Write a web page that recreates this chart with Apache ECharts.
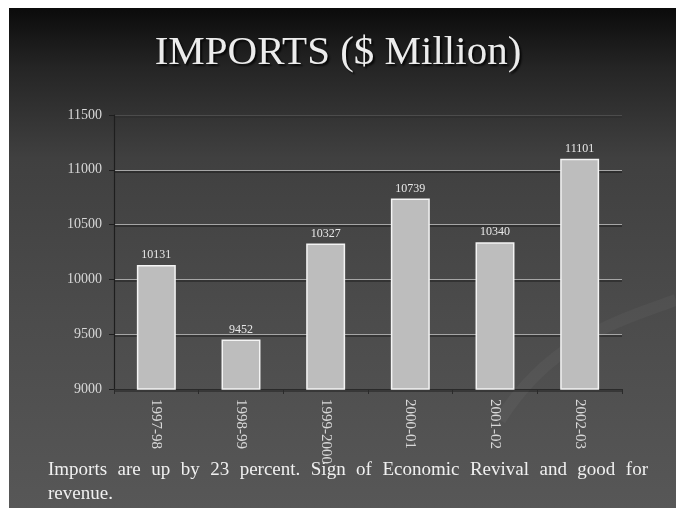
<!DOCTYPE html>
<html>
<head>
<meta charset="utf-8">
<script src="https://cdn.jsdelivr.net/npm/echarts@6/dist/echarts.min.js"></script>
<style>
  html, body { margin: 0; padding: 0; background: #ffffff; }
  #chart { width: 676px; height: 508px; }
</style>
</head>
<body>
<div id="chart"></div>
<script>
// Fiscal years and import values ($ Million)
const years = ['1997-98', '1998-99', '1999-2000', '2000-01', '2001-02', '2002-03'];
const imports = [10131, 9452, 10327, 10739, 10340, 11101];

// Value axis range and step
const yMin = 9000;
const yMax = 11500;
const yStep = 500;

// Slide text
const titleText = 'IMPORTS ($ Million)';
const noteLines = [
  'Imports are up by 23 percent. Sign of Economic Revival and good for',
  'revenue.'
];

const SERIF = '"Liberation Serif", "DejaVu Serif", serif';
const NOTE_FONT = '19px ' + SERIF;

// Lay out a justified line of words between two x positions
function justifiedWords(line, x0, x1, y) {
  const ctx = document.createElement('canvas').getContext('2d');
  ctx.font = NOTE_FONT;
  const words = line.split(' ');
  const widths = words.map(w => ctx.measureText(w).width);
  const total = widths.reduce((a, b) => a + b, 0);
  const gap = words.length > 1 ? (x1 - x0 - total) / (words.length - 1) : 0;
  let x = x0;
  return words.map((w, i) => {
    const el = {
      type: 'text', x: x, y: y, silent: true,
      style: { text: w, fill: '#f0f0f0', font: NOTE_FONT, textVerticalAlign: 'middle' }
    };
    x += widths[i] + gap;
    return el;
  });
}

const chart = echarts.init(document.getElementById('chart'), null, { renderer: 'canvas' });

const graphics = [
  // slide background
  {
    type: 'rect', z: -10, silent: true,
    shape: { x: 9, y: 8, width: 667, height: 500 },
    style: {
      fill: new echarts.graphic.LinearGradient(0, 0, 0, 1, [
        { offset: 0, color: '#0b0b0b' },
        { offset: 0.12, color: '#252525' },
        { offset: 0.3, color: '#404040' },
        { offset: 0.6, color: '#4b4b4b' },
        { offset: 1, color: '#575757' }
      ])
    }
  },
  // faint decorative swoosh lower right
  {
    type: 'bezierCurve', z: -9, silent: true,
    shape: { x1: 500, y1: 420, x2: 676, y2: 300, cpx1: 550, cpy1: 340, cpx2: 620, cpy2: 320 },
    style: { stroke: 'rgba(255,255,255,0.035)', lineWidth: 12, fill: null }
  },
  // title
  {
    type: 'text', left: 'center', top: 33, silent: true,
    style: {
      text: titleText, fill: '#ececec',
      font: '41px ' + SERIF,
      textShadowColor: 'rgba(0,0,0,0.8)', textShadowOffsetX: 2, textShadowOffsetY: 2, textShadowBlur: 2
    }
  }
];

graphics.push(...justifiedWords(noteLines[0], 48, 648, 470));
graphics.push({
  type: 'text', x: 48, y: 494, silent: true,
  style: { text: noteLines[1], fill: '#f0f0f0', font: NOTE_FONT, textVerticalAlign: 'middle' }
});

chart.setOption({
  backgroundColor: 'transparent',
  animation: false,
  graphic: graphics,
  grid: { left: 114, right: 54, top: 115, bottom: 119, containLabel: false },
  xAxis: {
    type: 'category',
    data: years,
    axisLine: { show: true, lineStyle: { color: '#2a2a2a', width: 1 } },
    axisTick: { show: true, alignWithLabel: false, length: 5, lineStyle: { color: '#2a2a2a' } },
    axisLabel: {
      rotate: -90, margin: 10, interval: 0,
      color: '#d8d8d8', fontFamily: SERIF, fontSize: 15
    }
  },
  yAxis: {
    type: 'value',
    min: yMin, max: yMax, interval: yStep,
    axisLine: { show: true, lineStyle: { color: '#1e1e1e', width: 1.2 } },
    axisTick: { show: true, length: 5, lineStyle: { color: '#1e1e1e' } },
    axisLabel: {
      color: '#d8d8d8', fontFamily: SERIF, fontSize: 14, margin: 12,
      formatter: v => String(v)
    },
    splitLine: {
      show: true,
      lineStyle: {
        color: ['#9e9e9e', '#a6a6a6', '#a6a6a6', '#a6a6a6', '#a6a6a6', 'rgba(150,150,150,0.25)'],
        width: 1,
        shadowColor: 'rgba(0,0,0,0.6)', shadowOffsetY: 1.5
      }
    }
  },
  series: [{
    type: 'bar',
    data: imports,
    barWidth: '46%',
    itemStyle: { color: '#bdbdbd', borderColor: '#f4f4f4', borderWidth: 1.5 },
    label: {
      show: true, position: 'top', distance: 4,
      color: '#e8e8e8', fontFamily: SERIF, fontSize: 12
    }
  }]
});
</script>
</body>
</html>
